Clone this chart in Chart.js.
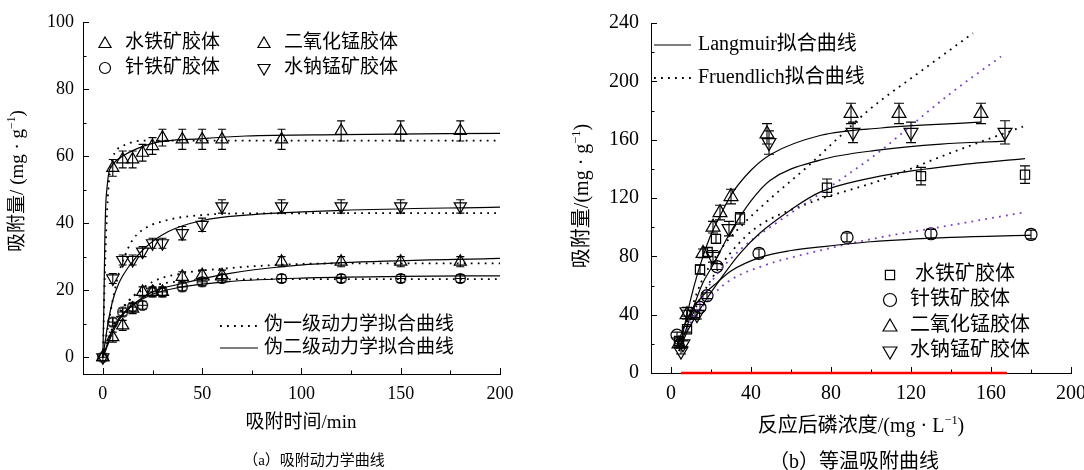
<!DOCTYPE html>
<html>
<head>
<meta charset="utf-8">
<script src="https://cdn.jsdelivr.net/npm/chart.js@4.4.1/dist/chart.umd.min.js"></script>
<style>
  body { margin: 0; background: #fff; width: 1084px; height: 470px; overflow: hidden; position: relative; }
  canvas { position: absolute; top: 0; }
  #ca { left: 0; }
  #cb { left: 540px; }
</style>
</head>
<body>
<canvas id="ca" width="540" height="470"></canvas>
<canvas id="cb" width="544" height="470"></canvas>
<script>
const FONT = "'Liberation Serif', 'Noto Sans CJK SC', serif";
const PURPLE = '#7a3cc8';

// ---- (a) 吸附动力学 ----
const xTicksA = [0, 50, 100, 150, 200];
const xMinorA = [25, 75, 125, 175];
const yTicksA = [0, 20, 40, 60, 80, 100];
const yMinorA = [10, 30, 50, 70, 90];

const timeA = [0, 5, 10, 15, 20, 25, 30, 40, 50, 60, 90, 120, 150, 180];
const qFerriA = [0, 56.5, 59, 59, 61, 63, 65.5, 65, 65, 65, 65, 67.5, 67.5, 67.5];
const eFerriA = [0, 2.5, 2.5, 2.5, 2.5, 2.5, 2.5, 3, 3, 3, 3, 3, 3, 3];
const qGoethA = [0, 10.5, 13.5, 15, 15.5, 19.5, 19.5, 21, 22.5, 23.5, 23.5, 23.5, 23.5, 23.5];
const eGoethA = [0, 1.2, 1.2, 1.2, 1.2, 1.2, 1.2, 1.2, 1.2, 1.2, 1.2, 1.2, 1.2, 1.2];
const qMnO2A = [0, 6, 9.5, 14.5, 19.5, 19.5, 19.5, 24, 24.5, 24.5, 28.5, 28.5, 28.5, 28.5];
const eMnO2A = [0, 1.5, 1.5, 1.5, 1.5, 1.5, 1.5, 1.5, 1.5, 1.5, 1.5, 1.5, 1.5, 1.5];
const qBirnA = [0, 23.5, 29, 29, 31.5, 34, 34, 37, 39.5, 45, 45, 45, 45, 45];
const eBirnA = [0, 1.5, 1.5, 1.5, 1.5, 1.5, 1.5, 2, 2, 2, 2, 2, 2, 2];

// 伪二级 (solid) / 伪一级 (dotted) fitted curves
const psoFerriT = [0, 0.5, 1, 1.5, 2, 3, 5, 10, 25, 50, 72, 120, 200];
const psoFerriQ = [0, 15, 35, 46, 50, 55, 57.5, 60, 63.8, 65.2, 66, 66.4, 66.8];
const pfoFerriT = [0, 1, 2, 3, 4, 6, 10, 15, 20, 200];
const pfoFerriQ = [0, 25, 42, 52, 57, 61, 63, 64.2, 64.6, 64.6];
const psoBirnT = [0, 1, 2, 3, 5, 8, 13, 21, 33, 50, 72, 120, 200];
const psoBirnQ = [0, 4, 8, 11.5, 17, 22, 27, 32.5, 37.5, 40.8, 42.4, 43.8, 44.8];
const pfoBirnT = [0, 2, 4, 6, 8, 11.6, 15, 20, 33, 50, 70, 200];
const pfoBirnQ = [0, 7, 14, 20, 25, 31, 35, 38, 41, 42.4, 42.9, 43];
const psoMnO2T = [0, 2, 4, 8, 15, 25, 40, 64, 90, 120, 200];
const psoMnO2Q = [0, 3, 6, 11, 15.5, 19.5, 22, 25, 27, 28.2, 29.5];
const pfoMnO2T = [0, 2, 4, 8, 15, 25, 40, 64, 90, 120, 200];
const pfoMnO2Q = [0, 3.5, 7, 12.5, 18, 22.5, 25, 26.6, 27.6, 28, 28];
const psoGoethT = [0, 2, 4, 8, 15, 25, 40, 64, 100, 150, 200];
const psoGoethQ = [0, 3.5, 7, 11.5, 15.5, 18.8, 21, 22.6, 23.6, 24.1, 24.3];
const pfoGoethT = [0, 2, 4, 8, 15, 25, 40, 64, 100, 200];
const pfoGoethQ = [0, 4, 7.5, 13, 18, 21.2, 22.7, 23.2, 23.3, 23.3];

// ---- (b) 等温吸附 ----
const xTicksB = [0, 40, 80, 120, 160, 200];
const xMinorB = [20, 60, 100, 140, 180];
const yTicksB = [0, 40, 80, 120, 160, 200, 240];
const yMinorB = [20, 60, 100, 140, 180, 220];

const cFerri = [4, 8, 12, 14.5, 18.3, 22.5, 34.5, 78, 125, 177];
const qeFerri = [22, 30, 40, 71, 83, 92, 106, 127, 135, 136];
const erFerri = [2, 2, 2, 3, 3, 3, 4, 6, 6, 6];
const cGoeth = [3, 14.5, 18, 23, 44, 88, 130, 180];
const qeGoeth = [26, 45, 53, 73, 82, 93, 95.5, 95];
const erGoeth = [2, 2, 2, 2, 3, 3, 3, 3];
const cMnO2 = [4, 8, 16, 21, 24.5, 30, 48, 90, 114, 155];
const qeMnO2 = [20, 40, 82, 100, 110, 121, 164, 178, 178, 178];
const erMnO2 = [2, 3, 3, 4, 5, 5, 7, 7, 7, 7];
const cBirn = [5, 6, 8, 13, 21, 29, 49, 91, 120, 167];
const qeBirn = [15, 20, 42, 40, 80, 99, 158, 165, 165, 165];
const erBirn = [2, 2, 3, 3, 4, 5, 8, 7, 7, 8];

// Langmuir (solid)
const lanMnO2C = [4, 8, 12, 16, 20, 25, 30, 40, 50, 75, 105, 155];
const lanMnO2Q = [15, 40, 62, 80, 95, 109, 122, 139, 150, 163, 168, 172];
const lanBirnC = [4, 8, 12, 16, 21, 29.5, 40, 49.5, 74.5, 104.5, 135, 167];
const lanBirnQ = [15, 32, 48, 62, 74, 96, 118, 132, 146, 153, 157, 159];
const lanFerriC = [4, 8, 12, 16, 24.5, 34.5, 44.5, 60, 74.5, 104.5, 140, 177];
const lanFerriQ = [15, 28, 38, 47, 64, 82, 96, 112, 124, 135, 142, 147];
const lanGoethC = [3, 6, 10, 14, 18, 23, 30, 45, 60, 75, 100, 140, 180];
const lanGoethQ = [18, 30, 42, 50, 56, 62, 70, 79.5, 84, 86.5, 90, 93, 94.5];
// Freundlich (dotted)
const freMnO2C = [8, 15, 25, 34.5, 50, 67.8, 85, 99.5, 125, 151];
const freMnO2Q = [35, 62, 85, 100, 120, 141, 163, 181, 207, 233];
const freBirnC = [8, 20, 35, 52.8, 74.5, 104.5, 116, 140, 165];
const freBirnQ = [30, 62, 85, 103, 123, 152, 165, 192, 217];
const freFerriC = [8, 15, 25, 41, 68, 104.5, 140, 176];
const freFerriQ = [32, 52, 74, 98, 116, 132, 151, 169];
const freGoethC = [8, 15, 22, 29.5, 45, 74.5, 104.5, 130, 176];
const freGoethQ = [30, 44, 55, 63.6, 73, 84, 93, 99, 110];
const redC = [5, 168];
const redQ = [0, 0];

const xy = (xs, ys) => xs.map((x, i) => ({ x, y: ys[i] }));

function crossCircle(r) {
  const c = document.createElement('canvas');
  c.width = c.height = 2 * r + 3;
  const g = c.getContext('2d'), m = r + 1.5;
  g.lineWidth = 1.2;
  g.beginPath();
  g.arc(m, m, r, 0, Math.PI * 2);
  g.moveTo(m - r, m); g.lineTo(m + r, m);
  g.moveTo(m, m - r); g.lineTo(m, m + r);
  g.stroke();
  return c;
}

function drawSegs(ctx, segs, x, y, size, align, rot) {
  ctx.save();
  ctx.translate(x, y);
  if (rot) ctx.rotate(rot);
  ctx.textBaseline = 'middle';
  ctx.fillStyle = '#000';
  const parts = segs.map(s => {
    const sz = s.sup ? size * 0.62 : size;
    ctx.font = sz + 'px ' + FONT;
    return { t: s.t, sz, sup: s.sup, w: ctx.measureText(s.t).width };
  });
  const total = parts.reduce((a, p) => a + p.w, 0);
  let cx = align === 'left' ? 0 : -total / 2;
  parts.forEach(p => {
    ctx.font = p.sz + 'px ' + FONT;
    ctx.fillText(p.t, cx, p.sup ? -size * 0.3 : 0);
    cx += p.w;
  });
  ctx.restore();
}

const decor = {
  id: 'decor',
  beforeDatasetsDraw(chart, args, o) {
    const ctx = chart.ctx, xs = chart.scales.x, ys = chart.scales.y;
    const a = chart.chartArea;
    ctx.save();
    ctx.strokeStyle = '#000';
    ctx.lineWidth = 1;
    ctx.beginPath();
    o.xMajor.forEach(v => { const p = Math.round(xs.getPixelForValue(v)) + 0.5; ctx.moveTo(p, a.bottom); ctx.lineTo(p, a.bottom - 6); });
    o.xMinor.forEach(v => { const p = Math.round(xs.getPixelForValue(v)) + 0.5; ctx.moveTo(p, a.bottom); ctx.lineTo(p, a.bottom - 3.5); });
    o.yMajor.forEach(v => { const p = Math.round(ys.getPixelForValue(v)) + 0.5; ctx.moveTo(a.left, p); ctx.lineTo(a.left + 6, p); });
    o.yMinor.forEach(v => { const p = Math.round(ys.getPixelForValue(v)) + 0.5; ctx.moveTo(a.left, p); ctx.lineTo(a.left + 3.5, p); });
    ctx.stroke();
    // error bars
    ctx.lineWidth = 1.1;
    chart.data.datasets.forEach(ds => {
      if (!ds.errs) return;
      ds.data.forEach((pt, i) => {
        const e = ds.errs[i];
        if (!e) return;
        const px = xs.getPixelForValue(pt.x);
        const y1 = ys.getPixelForValue(pt.y - e), y2 = ys.getPixelForValue(pt.y + e);
        ctx.beginPath();
        ctx.moveTo(px, y1); ctx.lineTo(px, y2);
        ctx.moveTo(px - o.cap, y1); ctx.lineTo(px + o.cap, y1);
        ctx.moveTo(px - o.cap, y2); ctx.lineTo(px + o.cap, y2);
        ctx.stroke();
      });
    });
    ctx.restore();
  },
  afterDraw(chart, args, o) {
    const ctx = chart.ctx;
    ctx.save();
    o.keys.forEach(k => {
      ctx.strokeStyle = '#000';
      ctx.fillStyle = 'rgba(0,0,0,0)';
      ctx.lineWidth = k.lw || 1.2;
      if (k.line) {
        ctx.setLineDash(k.dash || []);
        ctx.beginPath(); ctx.moveTo(k.x1, k.y); ctx.lineTo(k.x2, k.y); ctx.stroke();
        ctx.setLineDash([]);
      } else {
        Chart.helpers.drawPoint(ctx, { pointStyle: k.style, radius: k.r, rotation: k.rot || 0, borderWidth: 1.2 }, k.x, k.y);
      }
    });
    o.texts.forEach(t => drawSegs(ctx, t.segs, t.x, t.y, t.size, t.align, t.rot));
    ctx.restore();
  }
};

function fitLine(data, dotted, color) {
  return {
    type: 'line', data, showLine: true, pointRadius: 0, borderColor: color || '#000',
    borderWidth: dotted ? 1.8 : 1.2, borderDash: dotted ? [1.8, 5.2] : [],
    cubicInterpolationMode: 'monotone', fill: false
  };
}
function marks(data, errs, style, r, rot) {
  return {
    type: 'scatter', data, errs, pointStyle: style, pointRadius: r, pointRotation: rot || 0,
    borderColor: '#000', backgroundColor: 'rgba(0,0,0,0)', pointBorderWidth: 1.2, showLine: false
  };
}
function axes(xMin, xMax, yMin, yMax, xT, yT, yW, xH, size, yPad) {
  const common = {
    grid: { display: true, drawOnChartArea: false, drawTicks: false },
    border: { display: true, color: '#000', width: 1 },
  };
  const zeroPad = s => { s.paddingLeft = s.paddingRight = s.paddingTop = s.paddingBottom = 0; };
  return {
    x: Object.assign({}, common, {
      type: 'linear', min: xMin, max: xMax,
      afterBuildTicks: s => { s.ticks = xT.map(v => ({ value: v })); },
      afterFit: s => { s.height = xH; zeroPad(s); },
      ticks: { color: '#000', font: { family: FONT, size }, padding: 9, maxRotation: 0, autoSkip: false }
    }),
    y: Object.assign({}, common, {
      type: 'linear', min: yMin, max: yMax,
      afterBuildTicks: s => { s.ticks = yT.map(v => ({ value: v })); },
      afterFit: s => { s.width = yW; zeroPad(s); },
      ticks: { color: '#000', font: { family: FONT, size }, padding: yPad, autoSkip: false }
    })
  };
}

const ring = crossCircle(5);

new Chart(document.getElementById('ca'), {
  type: 'scatter',
  data: {
    datasets: [
      fitLine(xy(psoFerriT, psoFerriQ)), fitLine(xy(pfoFerriT, pfoFerriQ), true),
      fitLine(xy(psoBirnT, psoBirnQ)), fitLine(xy(pfoBirnT, pfoBirnQ), true),
      fitLine(xy(psoMnO2T, psoMnO2Q)), fitLine(xy(pfoMnO2T, pfoMnO2Q), true),
      fitLine(xy(psoGoethT, psoGoethQ)), fitLine(xy(pfoGoethT, pfoGoethQ), true),
      marks(xy(timeA, qFerriA), eFerriA, 'triangle', 7),
      marks(xy(timeA, qGoethA), eGoethA, ring, 5),
      marks(xy(timeA, qMnO2A), eMnO2A, 'triangle', 7),
      marks(xy(timeA, qBirnA), eBirnA, 'triangle', 7, 180),
    ]
  },
  options: {
    responsive: false, animation: false,
    layout: { padding: { left: 0, top: 22, right: 40, bottom: 0 } },
    scales: axes(-10, 200, -5, 100, xTicksA, yTicksA, 83, 96, 18, 9),
    plugins: {
      legend: { display: false }, tooltip: { enabled: false },
      decor: {
        xMajor: xTicksA, xMinor: xMinorA, yMajor: yTicksA, yMinor: yMinorA, cap: 4,
        keys: [
          { style: 'triangle', r: 7, x: 105, y: 44 },
          { style: 'triangle', r: 7, x: 264, y: 44 },
          { style: 'circle', r: 5.5, x: 105, y: 68 },
          { style: 'triangle', r: 7, rot: 180, x: 264, y: 68 },
          { line: true, dash: [1.8, 5.2], lw: 1.8, x1: 220, x2: 258, y: 326 },
          { line: true, x1: 220, x2: 258, y: 348 },
        ],
        texts: [
          { segs: [{ t: '水铁矿胶体' }], x: 125, y: 43, size: 19, align: 'left' },
          { segs: [{ t: '二氧化锰胶体' }], x: 284, y: 43, size: 19, align: 'left' },
          { segs: [{ t: '针铁矿胶体' }], x: 125, y: 68, size: 19, align: 'left' },
          { segs: [{ t: '水钠锰矿胶体' }], x: 284, y: 68, size: 19, align: 'left' },
          { segs: [{ t: '伪一级动力学拟合曲线' }], x: 264, y: 325, size: 19, align: 'left' },
          { segs: [{ t: '伪二级动力学拟合曲线' }], x: 264, y: 348, size: 19, align: 'left' },
          { segs: [{ t: '吸附量/ (mg · g' }, { t: '−1', sup: true }, { t: ')' }], x: 18, y: 181, size: 19, rot: -Math.PI / 2 },
          { segs: [{ t: '吸附时间/min' }], x: 301, y: 423, size: 19 },
          { segs: [{ t: '（a）吸附动力学曲线' }], x: 314, y: 461, size: 15 },
        ]
      }
    }
  },
  plugins: [decor]
});

new Chart(document.getElementById('cb'), {
  type: 'scatter',
  data: {
    datasets: [
      fitLine(xy(lanMnO2C, lanMnO2Q)), fitLine(xy(lanBirnC, lanBirnQ)),
      fitLine(xy(lanFerriC, lanFerriQ)), fitLine(xy(lanGoethC, lanGoethQ)),
      fitLine(xy(freMnO2C, freMnO2Q), true), fitLine(xy(freBirnC, freBirnQ), true, PURPLE),
      fitLine(xy(freFerriC, freFerriQ), true), fitLine(xy(freGoethC, freGoethQ), true, PURPLE),
      marks(xy(cFerri, qeFerri), erFerri, 'rect', 6.5),
      marks(xy(cGoeth, qeGoeth), erGoeth, 'circle', 6),
      marks(xy(cMnO2, qeMnO2), erMnO2, 'triangle', 8),
      marks(xy(cBirn, qeBirn), erBirn, 'triangle', 8, 180),
      { type: 'line', data: xy(redC, redQ), borderColor: '#ff0000', borderWidth: 2.5, pointRadius: 0, clip: false },
    ]
  },
  options: {
    responsive: false, animation: false,
    layout: { padding: { left: 0, top: 23, right: 13, bottom: 0 } },
    scales: axes(-10, 200, 0, 240, xTicksB, yTicksB, 111, 97, 20, 12),
    plugins: {
      legend: { display: false }, tooltip: { enabled: false },
      decor: {
        xMajor: xTicksB, xMinor: xMinorB, yMajor: yTicksB, yMinor: yMinorB, cap: 5,
        keys: [
          { line: true, x1: 114, x2: 151, y: 45 },
          { line: true, dash: [1.8, 5.2], lw: 1.8, x1: 114, x2: 151, y: 78 },
          { style: 'rect', r: 6.5, x: 350, y: 275 },
          { style: 'circle', r: 6.5, x: 350, y: 300 },
          { style: 'triangle', r: 8, x: 350, y: 327 },
          { style: 'triangle', r: 8, rot: 180, x: 350, y: 351 },
        ],
        texts: [
          { segs: [{ t: 'Langmuir拟合曲线' }], x: 158, y: 45, size: 20, align: 'left' },
          { segs: [{ t: 'Fruendlich拟合曲线' }], x: 158, y: 78, size: 20, align: 'left' },
          { segs: [{ t: '水铁矿胶体' }], x: 375, y: 275, size: 20, align: 'left' },
          { segs: [{ t: '针铁矿胶体' }], x: 370, y: 300, size: 20, align: 'left' },
          { segs: [{ t: '二氧化锰胶体' }], x: 370, y: 326, size: 20, align: 'left' },
          { segs: [{ t: '水钠锰矿胶体' }], x: 370, y: 351, size: 20, align: 'left' },
          { segs: [{ t: '吸附量/(mg · g' }, { t: '−1', sup: true }, { t: ')' }], x: 43, y: 196, size: 20, rot: -Math.PI / 2 },
          { segs: [{ t: '反应后磷浓度/(mg · L' }, { t: '−1', sup: true }, { t: ')' }], x: 321, y: 427, size: 20 },
          { segs: [{ t: '（b）等温吸附曲线' }], x: 314, y: 463, size: 20 },
        ]
      }
    }
  },
  plugins: [decor]
});
</script>
</body>
</html>
